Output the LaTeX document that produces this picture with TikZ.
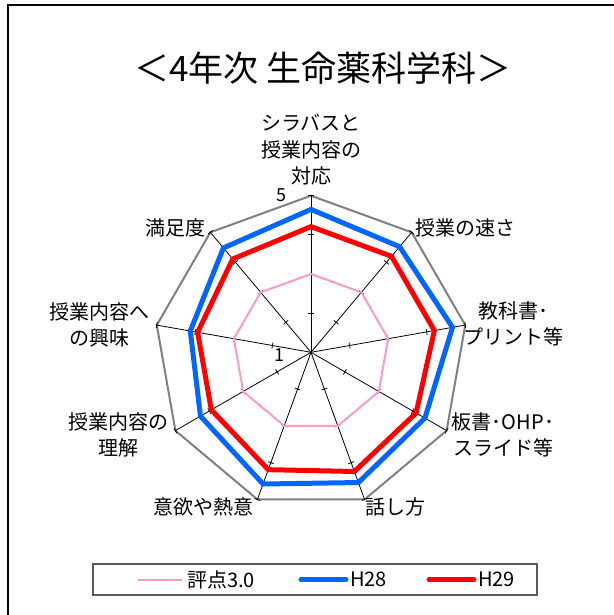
\documentclass[tikz,border=0pt]{standalone}
\usepackage{fontspec}
\setmainfont{Noto Sans CJK JP}
\usetikzlibrary{positioning}

\definecolor{hyoten}{RGB}{255,153,204}
\definecolor{hblue}{RGB}{0,102,255}
\definecolor{hred}{RGB}{255,0,0}
\definecolor{gridgray}{RGB}{128,128,128}

\newcommand{\radunit}{39.15}

\begin{document}
\begin{tikzpicture}[x=1pt,y=-1pt,
    axislabel/.style={font=\fontsize{20}{26.5}\selectfont, align=center, inner sep=0pt},
    series/.style={line width=5pt},
    legendline/.style={line width=5pt, line cap=round}]
    \useasboundingbox (0,0) rectangle (613,615);

    % Frame
    \draw[line width=1.5pt] (8,5) rectangle (630,630);

    % Title
    \node[font=\fontsize{35}{35}\selectfont] (title) at (323,68) {＜4年次 生命薬科学科＞};

    % Radar
    \begin{scope}[shift={(311,352.3)}, x=1pt, y=1pt]
        \coordinate (O) at (0,0);
        \foreach \k in {0,...,8}
            \coordinate (ax\k) at ({90-40*\k}:{4*\radunit});
        % outer gridline
        \draw[gridgray, line width=2pt] (ax0) -- (ax1) -- (ax2) -- (ax3) -- (ax4)
            -- (ax5) -- (ax6) -- (ax7) -- (ax8) -- cycle;
        % axes with ticks
        \foreach \k in {0,...,8} {
            \draw[black, line width=0.8pt] (O) -- (ax\k);
            \foreach \t in {1,...,4}
                \draw[black, line width=0.8pt, rotate={90-40*\k}]
                    ({\t*\radunit},-3) -- ({\t*\radunit},3);
        }
        % Series
        \draw[hyoten, line width=2pt] (90:{2*\radunit})
            foreach \i in {1,...,8} { -- ({90-40*\i}:{2*\radunit}) } -- cycle;
        \draw[series, hblue] (90:{(4.65-1)*\radunit})
            foreach \v [count=\i] in {4.52,4.67,4.36,4.54,4.58,4.26,4.13,4.48}
            { -- ({90-40*\i}:{(\v-1)*\radunit}) } -- cycle;
        \draw[series, hred] (90:{(4.21-1)*\radunit})
            foreach \v [count=\i] in {4.20,4.20,4.10,4.24,4.19,3.94,3.94,4.11}
            { -- ({90-40*\i}:{(\v-1)*\radunit}) } -- cycle;
    \end{scope}

    % Axis values
    \node[font=\fontsize{18}{18}\selectfont, inner sep=0pt] (v5) at (281,195) {5};
    \node[font=\fontsize{18}{18}\selectfont, inner sep=0pt] (v1) at (279,355) {1};

    % Axis labels
    \node[axislabel] (lab0) at (311,150) {シラバスと\\授業内容の\\対応};
    \node[axislabel] (lab1) at (465,228) {授業の速さ};
    \node[axislabel] (lab2) at (513,324) {教科書･\\プリント等};
    \node[axislabel] (lab3) at (503,435) {板書･OHP･\\スライド等};
    \node[axislabel] (lab4) at (395,507) {話し方};
    \node[axislabel] (lab5) at (203,507) {意欲や熱意};
    \node[axislabel] (lab6) at (118,435) {授業内容の\\理解};
    \node[axislabel] (lab7) at (99,325) {授業内容へ\\の興味};
    \node[axislabel] (lab8) at (175,228) {満足度};

    % Legend
    \node[draw=gridgray!70!black, line width=1.2pt, minimum width=444pt, minimum height=31pt,
        inner sep=0pt] (legend) at (315,579.5) {};
    \coordinate (p1) at (138,579.5);
    \coordinate (p2) at (182,579.5);
    \coordinate (b1) at (301,579.5);
    \coordinate (b2) at (346,579.5);
    \coordinate (r1) at (429,579.5);
    \coordinate (r2) at (474,579.5);
    \draw[hyoten, line width=2pt] (p1) -- (p2);
    \draw[legendline, hblue] (b1) -- (b2);
    \draw[legendline, hred] (r1) -- (r2);
    \node[font=\fontsize{20}{20}\selectfont, inner sep=0pt, anchor=west, right=5pt of p2] (lp) {評点3.0};
    \node[font=\fontsize{20}{20}\selectfont, inner sep=0pt, anchor=west, right=4pt of b2] (lb) {H28};
    \node[font=\fontsize{20}{20}\selectfont, inner sep=0pt, anchor=west, right=4pt of r2] (lr) {H29};
\end{tikzpicture}
\end{document}
